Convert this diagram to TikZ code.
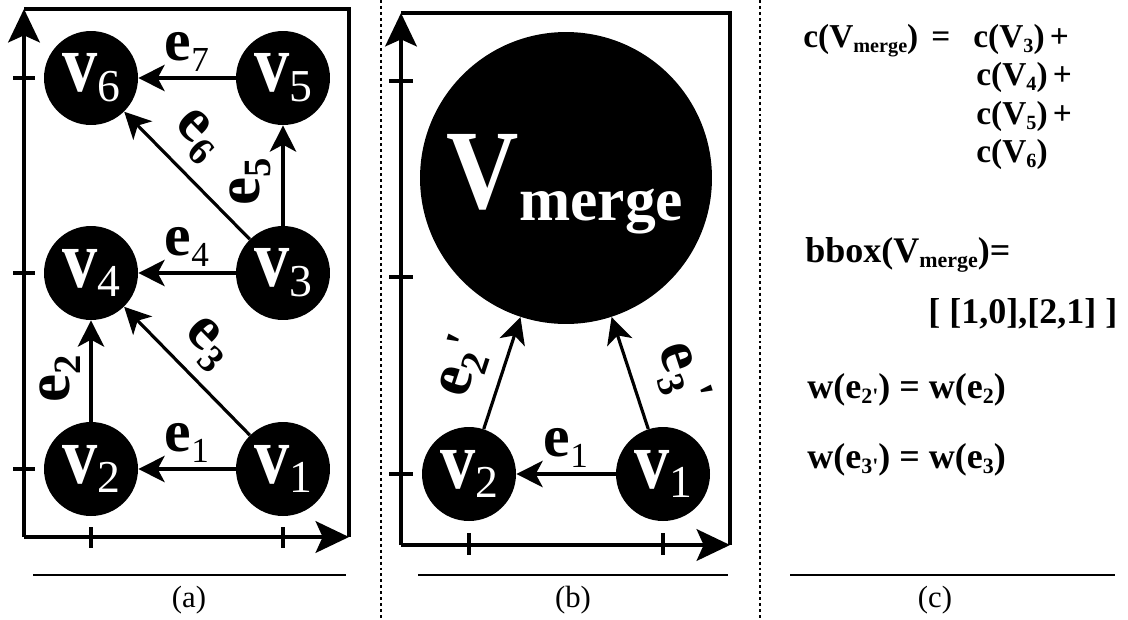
\documentclass[tikz,border=0pt]{standalone}
\usepackage{fontspec}
\setmainfont{Liberation Serif}
\usetikzlibrary{arrows.meta}
\newcommand{\vlab}[1]{\scalebox{1}[1.18]{\fontsize{40}{40}\selectfont\bfseries v}\raisebox{-5.5pt}{\fontsize{26}{26}\selectfont #1}}
\newcommand{\elab}[1]{{\fontsize{34}{34}\selectfont\bfseries e}\raisebox{-6pt}{\fontsize{20}{20}\selectfont #1}}
\newcommand{\erlab}[1]{{\fontsize{36}{36}\selectfont\bfseries e}\raisebox{-6.5pt}{\fontsize{22}{22}\selectfont\bfseries #1}}
\newcommand{\eplab}[2]{{\fontsize{36}{36}\selectfont\bfseries e}\raisebox{-6.5pt}{\fontsize{22}{22}\selectfont\bfseries #1}\raisebox{#2}{\fontsize{28}{28}\selectfont\bfseries\textquotesingle}}
\newcommand{\sbb}[1]{\raisebox{-3pt}{\fontsize{11.5}{11.5}\selectfont\bfseries #1}}
\newcommand{\sbc}[1]{\raisebox{-3.3pt}{\fontsize{12.5}{12.5}\selectfont\bfseries #1}}
\begin{document}
\begin{tikzpicture}[x=0.02cm,y=-0.02cm,
  vtx/.style={circle,fill=black,text=white,minimum size=1.88cm,inner sep=0pt},
  bigvtx/.style={circle,fill=black,minimum size=5.84cm,inner sep=0pt},
  edge/.style={line width=1.8pt,-{Stealth[length=15pt,width=15pt,inset=4pt]}},
  elabel/.style={sloped,inner sep=0pt},
  frame/.style={line width=2pt},
  axis/.style={line width=2pt,-{Stealth[length=19pt,width=18pt,inset=4pt]}},
  tick/.style={line width=2pt},
  rule/.style={line width=0.9pt},
  sep/.style={line width=0.7pt,dash pattern=on 1.7pt off 1.7pt},
  captext/.style={font=\fontsize{17.5}{17.5}\selectfont},
  eq/.style={anchor=base west,inner sep=0pt,font=\fontsize{19}{19}\selectfont\bfseries},
  eqb/.style={anchor=base west,inner sep=0pt,font=\fontsize{20.5}{20.5}\selectfont\bfseries}]
\useasboundingbox (0,0) rectangle (1128,619);
% ---------- separators ----------
\coordinate (s1t) at (381,0); \coordinate (s1b) at (381,619);
\coordinate (s2t) at (760,0); \coordinate (s2b) at (760,619);
\draw[sep] (s1t) -- (s1b);
\draw[sep] (s2t) -- (s2b);
% ---------- panel (a) ----------
\coordinate (aO) at (24,537); \coordinate (aTL) at (24,9);
\coordinate (aTR) at (349,9); \coordinate (aBR) at (349,537);
\draw[frame] (aTL) -- (aTR) -- (aBR);
\draw[axis] (aO) -- (aTL);
\draw[axis] (aO) -- (aBR);
\foreach \yy in {78,273,469} \draw[tick] (13,\yy) -- (35,\yy);
\foreach \xx in {91,283} \draw[tick] (\xx,527) -- (\xx,548);
\node[vtx] (v6) at (91,78) {\vlab{6}};
\node[vtx] (v5) at (283,78) {\vlab{5}};
\node[vtx] (v4) at (91,273) {\vlab{4}};
\node[vtx] (v3) at (283,273) {\vlab{3}};
\node[vtx] (v2) at (91,469) {\vlab{2}};
\node[vtx] (v1) at (283,469) {\vlab{1}};
\draw[edge] (v5) -- node[elabel,above=3pt] {\elab{7}} (v6);
\draw[edge] (v3) -- node[elabel,above=7pt,pos=0.62] {\erlab{6}} (v6);
\draw[edge] (v3) -- node[elabel,above=6pt,pos=0.44] {\erlab{5}} (v5);
\draw[edge] (v3) -- node[elabel,above=3pt] {\elab{4}} (v4);
\draw[edge] (v1) -- node[elabel,above=6pt,pos=0.53] {\erlab{3}} (v4);
\draw[edge] (v2) -- node[elabel,above=5pt,pos=0.42] {\erlab{2}} (v4);
\draw[edge] (v1) -- node[elabel,above=3pt] {\elab{1}} (v2);
\draw[rule] (33,575) -- (346,575);
\node[captext] (capa) at (189,600) {(a)};
% ---------- panel (b) ----------
\coordinate (bO) at (401,545); \coordinate (bTL) at (401,13);
\coordinate (bTR) at (730,13); \coordinate (bBR) at (730,545);
\draw[frame] (bTL) -- (bTR) -- (bBR);
\draw[axis] (bO) -- (bTL);
\draw[axis] (bO) -- (bBR);
\foreach \yy in {81,277,474} \draw[tick] (389,\yy) -- (413,\yy);
\foreach \xx in {469,663} \draw[tick] (\xx,533) -- (\xx,555);
\node[bigvtx] (vm) at (566,178) {};
\node[text=white,inner sep=0pt] (vmtext) at (565,184) {\scalebox{1}[1.13]{\fontsize{57}{57}\selectfont\bfseries V}\raisebox{-7pt}{\fontsize{35}{35}\selectfont\bfseries merge}};
\node[vtx] (w2) at (469,474) {\vlab{2}};
\node[vtx] (w1) at (663,474) {\vlab{1}};
\draw[edge] (w1) -- node[elabel,above=3pt] {\elab{1}} (w2);
\draw[edge] (w2) -- node[elabel,above=8pt,pos=0.45] {\eplab{2}{2pt}} (vm);
\draw[edge] (w1) -- node[elabel,above=12pt,pos=0.36] {\eplab{3}{4pt}} (vm);
\draw[rule] (418,575) -- (728,575);
\node[captext] (capb) at (573,600) {(b)};
% ---------- panel (c) ----------
\node[eq] (c1) at (803,47) {c(V\sbb{merge})};
\node[eq] (c1eq) at (931,47) {=};
\node[eq] (c1r) at (973,47) {c(V\sbb{3})\hspace{3pt}+};
\node[eq] (c2) at (976,85) {c(V\sbb{4})\hspace{3pt}+};
\node[eq] (c3) at (976,124) {c(V\sbb{5})\hspace{3pt}+};
\node[eq] (c4) at (976,162) {c(V\sbb{6})};
\node[eqb] (bb) at (805,262) {bbox(V\sbc{merge})=};
\node[eqb] (bb2) at (928,323) {[ [1,0],[2,1] ]};
\node[eqb] (w1e) at (807,398) {w(e\sbc{2\textquotesingle}) = w(e\sbc{2})};
\node[eqb] (w2e) at (807,468) {w(e\sbc{3\textquotesingle}) = w(e\sbc{3})};
\draw[rule] (790,575) -- (1115,575);
\node[captext] (capc) at (935,600) {(c)};
\end{tikzpicture}
\end{document}
